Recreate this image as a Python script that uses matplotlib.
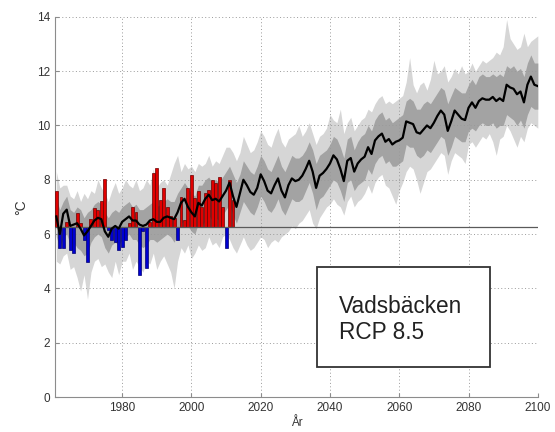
import numpy as np
import matplotlib
matplotlib.use("Agg")
import matplotlib.pyplot as plt
from matplotlib.patches import Rectangle

plt.rcParams['font.family'] = ['Liberation Sans', 'DejaVu Sans']

# reference level (mean of the observed period)
base = 6.25

# observed annual mean temperature 1961-2012
obs_years = np.arange(1961, 2013)
obs = [7.57, 5.48, 5.48, 6.45, 5.42, 5.30, 6.77, 6.40, 5.80, 4.99,
       6.55, 6.95, 6.90, 7.20, 8.02, 6.15, 5.80, 5.72, 5.42, 5.54,
       5.79, 6.40, 7.01, 6.83, 4.50, 6.10, 4.74, 6.45, 8.24, 8.43,
       7.26, 7.69, 7.01, 6.65, 6.60, 5.79, 7.38, 6.52, 7.69, 8.18,
       7.32, 7.57, 7.00, 7.50, 7.63, 8.00, 7.87, 8.12, 7.00, 5.48,
       8.00, 7.26]

# scenario ensemble 1961-2100: median, inner band, full range
years = np.arange(1961, 2101)
med = [6.65, 6.00, 6.75, 6.90, 6.30, 6.35, 6.40, 6.20, 5.95, 6.10,
       6.30, 6.50, 6.60, 6.55, 6.10, 5.90, 6.20, 6.30, 6.20, 6.45,
       6.55, 6.65, 6.50, 6.50, 6.35, 6.30, 6.35, 6.50, 6.55, 6.45,
       6.45, 6.60, 6.65, 6.60, 6.55, 6.80, 7.15, 7.30, 7.00, 6.80,
       6.65, 7.15, 7.05, 7.30, 7.45, 7.25, 7.30, 7.20, 7.40, 7.60,
       7.90, 7.40, 7.00, 7.50, 8.00, 7.80, 7.55, 7.45, 7.70, 8.20,
       7.95, 7.60, 7.50, 7.80, 8.05, 7.60, 7.35, 7.80, 8.05, 7.95,
       8.00, 8.15, 8.40, 8.70, 8.30, 7.70, 8.15, 8.25, 8.40, 8.60,
       8.90, 8.75, 8.40, 7.95, 8.70, 8.80, 8.30, 8.60, 8.75, 8.85,
       9.20, 8.95, 9.45, 9.60, 9.70, 9.40, 9.50, 9.30, 9.40, 9.45,
       9.55, 10.15, 10.10, 10.05, 9.75, 9.70, 9.85, 10.00, 9.90, 10.10,
       10.35, 10.55, 10.40, 9.80, 10.15, 10.55, 10.40, 10.25, 10.20, 10.65,
       10.85, 10.65, 10.90, 11.00, 10.95, 10.95, 11.05, 10.90, 11.00, 10.90,
       11.50, 11.40, 11.35, 11.15, 11.25, 10.85, 11.50, 11.80, 11.50, 11.45]

inner_hi = [7.3, 6.9, 7.2, 7.4, 6.9, 6.8, 7.0, 6.9, 6.6, 6.8,
            6.9, 7.1, 7.2, 7.1, 6.8, 6.6, 6.8, 6.9, 6.8, 7.0,
            7.1, 7.2, 7.0, 7.1, 6.9, 6.9, 7.0, 7.1, 7.2, 7.0,
            7.1, 7.2, 7.3, 7.2, 7.2, 7.5, 7.7, 7.9, 7.7, 7.5,
            7.4, 7.8, 7.8, 8.0, 8.1, 7.9, 8.0, 7.9, 8.1, 8.3,
            8.5, 8.2, 7.9, 8.2, 8.7, 8.5, 8.3, 8.2, 8.5, 8.9,
            8.7, 8.4, 8.3, 8.6, 8.9, 8.5, 8.3, 8.6, 8.9, 8.8,
            8.8, 8.9, 9.1, 9.4, 9.1, 8.6, 8.9, 9.0, 9.1, 9.3,
            9.6, 9.5, 9.2, 8.8, 9.5, 9.6, 9.1, 9.4, 9.6, 9.7,
            10.0, 9.8, 10.2, 10.4, 10.5, 10.2, 10.3, 10.1, 10.2, 10.3,
            10.4, 10.9, 11.0, 10.9, 10.6, 10.6, 10.8, 10.9, 10.8, 11.0,
            11.2, 11.4, 11.3, 10.8, 11.1, 11.4, 11.3, 11.2, 11.2, 11.5,
            11.7, 11.5, 11.8, 11.9, 11.8, 11.8, 11.9, 11.8, 11.9, 11.8,
            12.2, 12.1, 12.2, 12.0, 12.1, 11.8, 12.3, 12.6, 12.3, 12.3]

inner_lo = [5.9, 5.5, 5.9, 6.0, 5.6, 5.7, 5.5, 5.4, 5.2, 5.3,
            5.7, 5.9, 6.0, 5.9, 5.5, 5.3, 5.6, 5.7, 5.6, 5.8,
            5.9, 6.0, 5.8, 5.8, 5.6, 5.5, 5.6, 5.8, 5.8, 5.7,
            5.8, 5.9, 6.0, 5.9, 5.7, 6.0, 6.4, 6.5, 6.3, 6.1,
            6.0, 6.4, 6.3, 6.5, 6.7, 6.5, 6.6, 6.5, 6.7, 6.9,
            7.1, 6.7, 6.4, 6.8, 7.2, 7.0, 6.8, 6.7, 7.0, 7.4,
            7.2, 6.9, 6.8, 7.0, 7.3, 6.9, 6.7, 7.0, 7.3, 7.2,
            7.2, 7.3, 7.6, 7.9, 7.5, 6.9, 7.3, 7.4, 7.6, 7.8,
            8.0, 7.9, 7.6, 7.2, 7.9, 8.0, 7.6, 7.8, 7.9, 8.0,
            8.4, 8.2, 8.6, 8.8, 8.9, 8.6, 8.7, 8.5, 8.5, 8.6,
            8.7, 9.3, 9.2, 9.2, 8.9, 8.8, 8.9, 9.1, 9.0, 9.2,
            9.4, 9.6, 9.5, 8.9, 9.2, 9.6, 9.5, 9.4, 9.4, 9.8,
            9.9, 9.8, 10.0, 10.1, 10.0, 10.0, 10.1, 9.9, 10.0, 10.0,
            10.4, 10.3, 10.2, 10.0, 10.2, 9.9, 10.4, 10.7, 10.6, 10.6]

range_hi = [8.3, 7.7, 7.8, 7.8, 7.4, 7.3, 7.6, 7.2, 7.5, 7.3,
            7.6, 7.5, 8.0, 7.7, 7.5, 7.2, 7.6, 7.9, 7.5, 7.7,
            8.0, 7.8, 7.7, 8.0, 7.6, 7.7, 8.0, 7.8, 8.4, 7.7,
            7.9, 8.0, 7.8, 8.2, 8.6, 8.9, 8.3, 8.6, 8.4, 8.5,
            8.3, 8.6, 8.5, 8.6, 8.9, 8.5, 8.7, 8.6, 8.9, 9.2,
            9.2, 9.0, 8.7, 9.0, 9.6, 9.3, 9.0, 9.1, 9.4, 9.8,
            9.6, 9.3, 9.2, 9.6, 9.9, 9.4, 9.2, 9.5, 9.6, 9.7,
            10.0, 9.6, 9.8, 10.1, 9.7, 9.3, 9.6, 9.7, 9.9, 10.4,
            10.2, 10.1, 10.6, 9.7, 10.1, 10.3, 9.8, 10.0, 10.2, 10.3,
            10.6, 10.5, 10.8, 11.0, 11.1, 10.8, 10.9, 10.8, 10.9, 11.0,
            11.1, 11.6, 12.5, 11.5, 11.2, 11.5, 11.6, 11.3, 11.7, 12.4,
            11.9, 12.0, 12.2, 11.6, 11.8, 12.1, 11.9, 12.2, 11.9, 12.0,
            12.3, 12.0, 12.2, 12.4, 12.3, 12.4, 12.5, 12.7, 12.6, 12.9,
            13.9, 13.2, 13.0, 12.8, 12.9, 13.4, 12.9, 13.1, 13.2, 13.3]

range_lo = [5.0, 4.9, 5.2, 5.3, 4.7, 4.8, 4.4, 3.9, 4.5, 3.6,
            4.6, 5.0, 5.1, 4.8, 4.9, 4.6, 4.4, 5.0, 4.5, 5.0,
            5.0, 5.3, 4.7, 5.0, 4.8, 4.6, 5.0, 4.9, 5.3, 4.7,
            5.0, 5.2, 4.9, 4.6, 4.0, 5.0, 5.5, 5.3, 5.6, 5.1,
            5.3, 5.6, 5.4, 5.5, 5.9, 5.6, 5.7, 5.5, 5.9, 6.0,
            5.8, 5.5, 5.3, 5.6, 5.9, 5.6, 5.4, 5.5, 5.7, 5.9,
            5.8, 5.5, 5.7, 5.8, 5.7, 5.9, 6.0, 6.1, 6.3, 6.2,
            6.4, 6.5, 6.7, 6.9, 6.4, 6.2, 6.6, 6.8, 7.0, 7.1,
            7.3, 7.1, 7.0, 6.7, 7.2, 7.4, 7.0, 7.2, 7.3, 7.5,
            7.8, 7.5, 7.9, 8.1, 8.2, 7.8, 7.7, 7.4, 7.1, 7.6,
            7.9, 8.3, 8.5, 8.4, 8.0, 7.5, 7.9, 8.3, 8.4, 8.6,
            8.8, 9.0, 8.9, 8.2, 8.7, 9.0, 8.9, 8.8, 8.6, 9.3,
            9.4, 9.2, 9.4, 9.6, 9.5, 9.7, 9.4, 8.9, 9.5, 9.6,
            10.0, 9.8, 9.5, 9.2, 9.6, 9.4, 9.9, 10.1, 10.0, 9.9]

fig = plt.figure(figsize=(5.55, 4.32), dpi=100)
ax = fig.add_axes([0.099, 0.081, 0.870, 0.880])

ax.fill_between(years, range_lo, range_hi, color='#d6d6d6', lw=0, zorder=1)
ax.fill_between(years, inner_lo, inner_hi, color='#a3a3a3', lw=0, zorder=2)

obs = np.array(obs)
warm = obs >= base
ax.bar(obs_years[warm], obs[warm] - base, bottom=base, width=0.85,
       color='#e00000', edgecolor='#6a0000', linewidth=0.5, zorder=3)
ax.bar(obs_years[~warm], obs[~warm] - base, bottom=base, width=0.85,
       color='#0000d0', edgecolor='#000070', linewidth=0.5, zorder=3)

ax.axhline(base, color='#5a5a5a', lw=0.9, zorder=4)
ax.plot(years, med, color='black', lw=1.6, zorder=5)

# label box
ax.add_patch(Rectangle((2036.4, 1.12), 49.8, 3.68, facecolor='white',
                       edgecolor='#333333', lw=1.3, zorder=6))
ax.text(2042.6, 3.32, 'Vadsbäcken', fontsize=16.3, color='#222222',
        va='center', ha='left', zorder=7)
ax.text(2042.6, 2.36, 'RCP 8.5', fontsize=16.3, color='#222222',
        va='center', ha='left', zorder=7)

ax.set_xlim(1960.6, 2100)
ax.set_ylim(0, 14)
ax.set_xticks([1980, 2000, 2020, 2040, 2060, 2080, 2100])
ax.set_yticks([0, 2, 4, 6, 8, 10, 12, 14])
ax.grid(True, color='#9a9a9a', lw=0.7, linestyle=(0, (1, 2.5)))
ax.set_axisbelow(False)
for gl in ax.get_xgridlines() + ax.get_ygridlines():
    gl.set_zorder(0.5)

for side in ['top', 'right']:
    ax.spines[side].set_visible(False)
for side in ['left', 'bottom']:
    ax.spines[side].set_color('#8c8c8c')
    ax.spines[side].set_linewidth(0.8)
ax.tick_params(direction='in', length=3, color='#8c8c8c',
               labelsize=8.5, labelcolor='#333333')

ax.set_xlabel('År', fontsize=8.5, color='#333333', labelpad=2)
ax.set_ylabel('°C', fontsize=10, color='#333333', labelpad=6)

fig.savefig('out.png', dpi=100)
